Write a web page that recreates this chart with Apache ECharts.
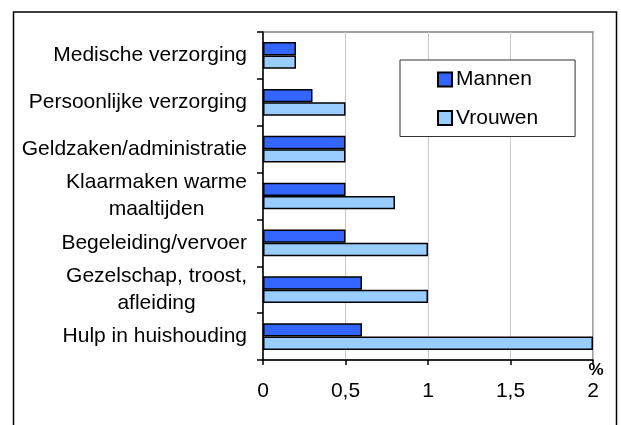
<!DOCTYPE html>
<html>
<head>
<meta charset="utf-8">
<script src="https://cdn.jsdelivr.net/npm/echarts@6/dist/echarts.min.js"></script>
<style>html,body{margin:0;padding:0;background:#fff;}#c{width:621px;height:425px;}</style>
</head>
<body>
<div id="c"></div>
<script>
const categories = ['Medische verzorging', 'Persoonlijke verzorging', 'Geldzaken/administratie', 'Klaarmaken warme\nmaaltijden', 'Begeleiding/vervoer', 'Gezelschap, troost,\nafleiding', 'Hulp in huishouding'];
const mannen = [0.2, 0.3, 0.5, 0.5, 0.5, 0.6, 0.6];
const vrouwen = [0.2, 0.5, 0.5, 0.8, 1.0, 1.0, 2.0];
const seriesNames = ['Mannen', 'Vrouwen'];
const xTicks = { min: 0, max: 2, interval: 0.5 };
const unitLabel = '%';

const FONT = "'Liberation Sans', Arial, sans-serif";
const chart = echarts.init(document.getElementById('c'), null, { renderer: 'canvas' });
chart.setOption({
  animation: false,
  backgroundColor: '#fff',
  graphic: [{
    type: 'rect', z: 0,
    shape: { x: 13.5, y: 12, width: 603, height: 440 },
    style: { fill: 'none', stroke: '#000', lineWidth: 1.5 }
  }],
  grid: { left: 263, right: 28, top: 32, bottom: 65, show: true, borderColor: '#808080', borderWidth: 1.5, containLabel: false },
  legend: {
    orient: 'vertical', left: 400, top: 60,
    padding: [9, 37, 8, 37],
    itemGap: 17.5, itemWidth: 14, itemHeight: 14,
    borderColor: '#333', borderWidth: 1, backgroundColor: '#fff',
    icon: 'rect',
    textStyle: { fontFamily: FONT, fontSize: 21, color: '#000', padding: [0,0,0,-1] },
    data: seriesNames
  },
  xAxis: {
    type: 'value', min: xTicks.min, max: xTicks.max, interval: xTicks.interval,
    axisLine: { show: true, lineStyle: { color: '#000', width: 1.5 } },
    axisTick: { show: true, length: 5, lineStyle: { color: '#000', width: 1.5 } },
    splitLine: { show: true, lineStyle: { color: '#c8c8c8', width: 1 } },
    axisLabel: { fontFamily: FONT, fontSize: 21, color: '#000', margin: 21, formatter: v => String(v).replace('.', ',') },
    name: unitLabel, nameLocation: 'end', nameGap: 3,
    nameTextStyle: { fontFamily: FONT, fontSize: 17, fontWeight: 'bold', color: '#000', align: 'center', verticalAlign: 'top', padding: [2, 0, 0, 0] }
  },
  yAxis: {
    type: 'category', inverse: true, data: categories,
    axisLine: { show: true, lineStyle: { color: '#000', width: 1.5 } },
    axisTick: { show: true, length: 6, lineStyle: { color: '#000', width: 1.5 } },
    axisLabel: {
      margin: 16, color: '#000', fontFamily: FONT, fontSize: 21,
      formatter: v => v.split('\n').map(l => '{c|' + l + '}').join('\n'),
      rich: { c: { align: 'center', fontFamily: FONT, fontSize: 21, color: '#000', lineHeight: 27 } }
    }
  },
  series: [
    { name: seriesNames[0], type: 'bar', data: mannen, barGap: '0%', barCategoryGap: '43%',
      itemStyle: { color: '#3366FF', borderColor: '#000', borderWidth: 1.5 } },
    { name: seriesNames[1], type: 'bar', data: vrouwen, barGap: '0%', barCategoryGap: '43%',
      itemStyle: { color: '#99CCFF', borderColor: '#000', borderWidth: 1.5 } }
  ]
});
</script>
</body>
</html>
